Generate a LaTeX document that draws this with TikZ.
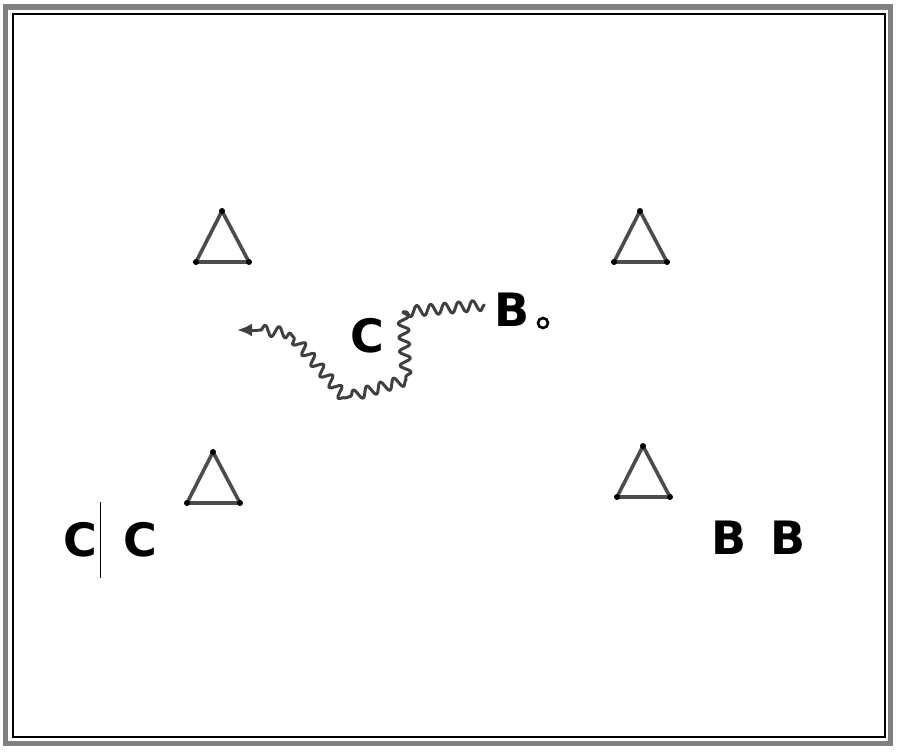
\documentclass[tikz,border=0pt]{standalone}
\usepackage{fontspec}
\setmainfont{DejaVu Sans}
\usetikzlibrary{calc,decorations.pathmorphing,arrows.meta}
\tikzstyle{frame}=[draw=black!50, line width=5.5]
\tikzstyle{cone}=[draw=black!70, line width=3.6, line join=round]
\tikzstyle{tip}=[circle, fill=black, inner sep=0pt, minimum size=6pt]
\tikzstyle{player}=[font=\fontsize{46}{46}\selectfont\bfseries, inner sep=0pt]
\tikzstyle{ball}=[circle, draw=black, line width=2.6, inner sep=0pt, minimum size=10pt]
\tikzstyle{dribble}=[line width=3, draw=black!75, line join=round, line cap=round, decorate,
    decoration={snake, segment length=14, amplitude=5.5}]

\begin{document}
\begin{tikzpicture}[x=1pt,y=-1pt]
    \useasboundingbox (0,0) rectangle (900,752);
    \draw[frame] (5.5,7) rectangle (890.5,743.5);
    \draw[line width=1.5] (13,14) rectangle (885,737);

    % cones
    \foreach \x/\y/\n in {222/211/tl, 640/211/tr, 213/452/bl, 643/446/br}{
        \coordinate (\n1) at (\x,\y);
        \coordinate (\n2) at (\x-26,\y+51);
        \coordinate (\n3) at (\x+27,\y+51);
        \draw[cone] (\n1) -- (\n2) -- (\n3) -- cycle;
        \node[tip] at (\n1) {};
        \node[tip] at (\n2) {};
        \node[tip] at (\n3) {};
    }

    \node[player] (c)  at (367,336) {C};
    \node[player] (b)  at (512,310) {B};
    \node[ball]   (o)  at (543,323) {};
    \node[player] (c1) at (80,540)  {C};
    \node[player] (c2) at (140,540) {C};
    \node[player] (b1) at (729,538) {B};
    \node[player] (b2) at (788,538) {B};
    \draw[line width=1] (100,502) -- (100,578);

    % dribble path
    \coordinate (p0) at ([xshift=-10,yshift=5]b.west);
    \coordinate (p1) at (403,312);
    \coordinate (p2) at (406,380);
    \coordinate (p3) at (345,398);
    \coordinate (p4) at (290,333);
    \coordinate (p5) at (258,330);
    \coordinate (end) at (237,330);
    \foreach \a/\b in {p0/p1, p1/p2, p2/p3, p3/p4, p4/p5}
        \draw[dribble] (\a) -- (\b);
    \draw[line width=3, draw=black!75, -{Latex[length=15pt,width=13pt]}] (p5) -- (end);
\end{tikzpicture}
\end{document}
